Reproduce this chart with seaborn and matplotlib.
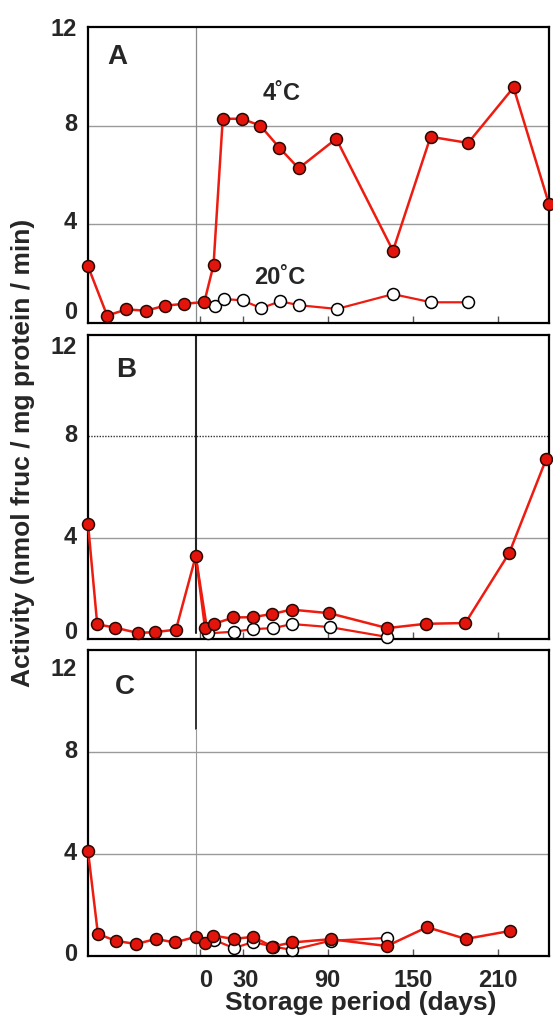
import matplotlib
matplotlib.use("Agg")
import matplotlib.pyplot as plt
import matplotlib.transforms as mtransforms
import seaborn as sns
import pandas as pd

# ---------------- data ----------------
# Panel A
A_pre_days = [-79, -65.5, -52, -38, -25, -11, 3]
A_pre_vals = [2.3, 0.3, 0.55, 0.5, 0.7, 0.78, 0.85]
A_4C_days = [9.5, 16, 29.5, 42.5, 56, 69.5, 96, 136, 162.5, 189, 221, 246]
A_4C_vals = [2.35, 8.28, 8.28, 8.0, 7.1, 6.27, 7.47, 2.93, 7.55, 7.3, 9.55, 4.82]
A_20C_days = [10.5, 17, 30, 43, 56.5, 70, 96.5, 136, 163, 189]
A_20C_vals = [0.7, 0.97, 0.92, 0.6, 0.88, 0.72, 0.57, 1.17, 0.84, 0.84]

# Panel B
B_pre_days = [-79, -72.5, -60, -44, -32, -17, -3]
B_pre_vals = [4.55, 0.58, 0.45, 0.24, 0.27, 0.37, 3.28]
B_4C_days = [3.5, 10, 23.5, 37, 51, 64.5, 91, 132, 159, 187, 218, 244]
B_4C_vals = [0.43, 0.6, 0.85, 0.86, 0.99, 1.16, 1.02, 0.43, 0.6, 0.63, 3.4, 7.1]
B_20C_days = [5.5, 24, 37.5, 51.5, 65, 91.5, 132]
B_20C_vals = [0.22, 0.29, 0.39, 0.43, 0.59, 0.47, 0.08]

# Panel C
C_pre_days = [-79, -72, -59, -45, -31, -18, -3]
C_pre_vals = [4.12, 0.86, 0.59, 0.47, 0.67, 0.53, 0.75]
C_4C_days = [3.3, 9.2, 23.6, 37.3, 51, 64.8, 92, 131.7, 160, 187.3, 218.3]
C_4C_vals = [0.5, 0.8, 0.67, 0.75, 0.37, 0.53, 0.66, 0.39, 1.13, 0.67, 0.98]
C_20C_days = [9.5, 23.8, 37.5, 51.2, 65, 92.2, 132]
C_20C_vals = [0.64, 0.31, 0.55, 0.37, 0.24, 0.6, 0.71]

panel_labels = ["A", "B", "C"]
x_ticks = [0, 30, 90, 150, 210]
y_ticks = [0, 4, 8, 12]
label_4C = "4\u02daC"
label_20C = "20\u02daC"
y_title = "Activity (nmol fruc / mg protein / min)"
x_title = "Storage period (days)"

# ---------------- style ----------------
sns.set_theme(style="white")
plt.rcParams["font.family"] = ["Liberation Sans", "DejaVu Sans"]
plt.rcParams["font.weight"] = "bold"

RED_LINE = "#ee1c10"
RED_FILL = "#e3140c"
EDGE = "#2a0800"

fig = plt.figure(figsize=(5.53, 10.21), dpi=100)
W, H = 553.0, 1021.0
left = 88 / W
width = 461 / W
boxes = [(27, 323), (335, 639), (650, 956)]
axes = []
for top, bot in boxes:
    ax = fig.add_axes([left, 1 - bot / H, width, (bot - top) / H])
    axes.append(ax)

panels = [
    (A_pre_days, A_pre_vals, A_4C_days, A_4C_vals, A_20C_days, A_20C_vals),
    (B_pre_days, B_pre_vals, B_4C_days, B_4C_vals, B_20C_days, B_20C_vals),
    (C_pre_days, C_pre_vals, C_4C_days, C_4C_vals, C_20C_days, C_20C_vals),
]

# vertical pixel shifts of y tick labels (0, 4, 8, 12), positive = up
label_shift = [
    [13, 4, 4, 0],
    [9, 3, 3, -10],
    [4, 3, 3, -17],
]

msize = 8.6
for i, (ax, data) in enumerate(zip(axes, panels)):
    pre_d, pre_v, d4, v4, d20, v20 = data
    ax.set_xlim(-79, 246)
    ax.set_ylim(0, 12)

    # grid lines
    if i == 1:
        ax.axhline(8, color="#333333", lw=1.0, ls=(0, (1, 1)), zorder=1)
    else:
        ax.axhline(8, color="#9a9a9a", lw=1.0, zorder=1)
    ax.axhline(4, color="#9a9a9a", lw=1.0, zorder=1)

    # vertical separator
    if i == 0:
        ax.axvline(-3, color="#8a8a8a", lw=0.9, zorder=1)
    elif i == 1:
        ax.axvline(-3, ymin=0.02, ymax=1, color="#222222", lw=1.5, zorder=1)
    else:
        ax.axvline(-3, ymin=8.9 / 12, ymax=1, color="#222222", lw=1.3, zorder=1)
        ax.axvline(-3, ymin=0, ymax=8.9 / 12, color="#9a9a9a", lw=0.8, zorder=1)

    # 20 C series (open circles), starting from last pre point
    df20 = pd.DataFrame({"day": [pre_d[-1]] + d20, "val": [pre_v[-1]] + v20})
    sns.lineplot(data=df20, x="day", y="val", ax=ax, color=RED_LINE, lw=1.6,
                 estimator=None, sort=False, zorder=3, clip_on=False)
    df20m = pd.DataFrame({"day": d20, "val": v20})
    sns.lineplot(data=df20m, x="day", y="val", ax=ax, lw=0, marker="o",
                 markersize=msize, markerfacecolor="white", markeredgecolor="black",
                 markeredgewidth=1.1, estimator=None, sort=False, zorder=4, clip_on=False)

    # pre + 4 C series (filled red)
    df4 = pd.DataFrame({"day": pre_d + d4, "val": pre_v + v4})
    sns.lineplot(data=df4, x="day", y="val", ax=ax, color=RED_LINE, lw=1.8,
                 marker="o", markersize=msize, markerfacecolor=RED_FILL,
                 markeredgecolor=EDGE, markeredgewidth=1.1,
                 estimator=None, sort=False, zorder=5, clip_on=False)

    ax.set_xlabel("")
    ax.set_ylabel("")
    ax.set_xticks(x_ticks)
    ax.set_yticks(y_ticks)
    ax.set_yticklabels([str(t) for t in y_ticks], fontsize=17, fontweight="bold")
    if i == 2:
        ax.set_xticklabels([str(t) for t in x_ticks], fontsize=17, fontweight="bold")
    else:
        ax.set_xticklabels([])
    ax.tick_params(axis="x", direction="in", length=5, width=1, color="#555555",
                   bottom=True, pad=9)
    ax.tick_params(axis="y", length=0, pad=8)
    for lab, dy in zip(ax.get_yticklabels(), label_shift[i]):
        off = mtransforms.ScaledTranslation(0, dy / 100.0, fig.dpi_scale_trans)
        lab.set_transform(lab.get_transform() + off)
    if i == 2:
        labs = ax.get_xticklabels()
        off = mtransforms.ScaledTranslation(6 / 100.0, 0, fig.dpi_scale_trans)
        labs[0].set_transform(labs[0].get_transform() + off)
        off = mtransforms.ScaledTranslation(3 / 100.0, 0, fig.dpi_scale_trans)
        labs[1].set_transform(labs[1].get_transform() + off)
    for sp in ax.spines.values():
        sp.set_color("black")
        sp.set_linewidth(1.6)
    ax.text([0.063, 0.082, 0.080][i], [0.899, 0.885, 0.879][i], panel_labels[i],
            transform=ax.transAxes, fontsize=20, fontweight="bold",
            ha="center", va="center")

axes[0].text(0.419, 0.777, label_4C, transform=axes[0].transAxes, fontsize=17,
             fontweight="bold", ha="center", va="center")
axes[0].text(0.4165, 0.155, label_20C, transform=axes[0].transAxes, fontsize=17,
             fontweight="bold", ha="center", va="center")

fig.text(23 / W, 1 - 453 / H, y_title, rotation=90, fontsize=19,
         fontweight="bold", ha="center", va="center")
fig.text(361 / W, 1 - 1003 / H, x_title, fontsize=19, fontweight="bold",
         ha="center", va="center")

fig.savefig("out.png", dpi=100)
